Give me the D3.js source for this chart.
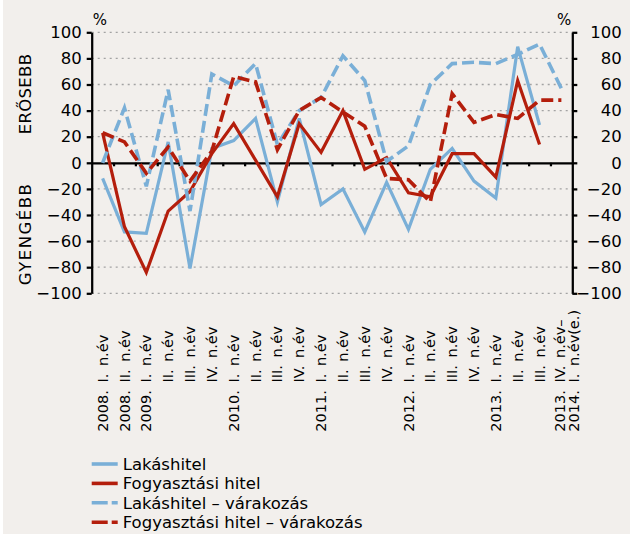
<!DOCTYPE html>
<html>
<head>
<meta charset="utf-8">
<script src="https://cdnjs.cloudflare.com/ajax/libs/d3/7.8.5/d3.min.js"></script>
<style>
  body { margin: 0; background: #fff; }
  svg { display: block; font-family: "DejaVu Sans", sans-serif; }
  .axis path, .axis line { stroke: #000; stroke-width: 2.25; }
  .axis text { font-family: "DejaVu Sans", sans-serif; font-size: 16.5px; fill: #000; }
  .xlabel { font-size: 14.5px; word-spacing: 3px; }
  .legend text { font-size: 16.5px; }
</style>
</head>
<body>
<svg id="chart"></svg>
<script>
var svgWidth = 633;
var svgHeight = 534;

var plotLeft = 91.7;
var plotRight = 572.3;
var plotTop = 32.3;
var plotBottom = 293.3;

// categories (quarters of the survey)
var categoryLabels = [
  "2008. I. n.év", "2008. II. n.év",
  "2009. I. n.év", "II. n.év", "III. n.év", "IV. n.év",
  "2010. I. n.év", "II. n.év", "III. n.év", "IV. n.év",
  "2011. I. n.év", "II. n.év", "III. n.év", "IV. n.év",
  "2012. I. n.év", "II. n.év", "III. n.év", "IV. n.év",
  "2013. I. n.év", "II. n.év", "III. n.év",
  "2013. IV. n.év–\n2014. I. n.év(e.)"
];

var yTicks = [-100, -80, -60, -40, -20, 0, 20, 40, 60, 80, 100];

// Lakáshitel
var housingLoan = [-12, -53, -54, 16, -81, 11, 17, 34, -30, 34, -32, -20, -53, -15, -51, -5, 11, -14, -27, 89, 29, null];
// Fogyasztási hitel
var consumerLoan = [23, -49, -84, -37, -22, 7, 30, 2, -26, 30, 8, 40, -5, 4, -23, -26, 7, 7, -11, 63, 14, null];
// Lakáshitel – várakozás
var housingExpect = [0, 42, -18, 56, -37, 68, 59, 76, 14, 40, 50, 82, 63, 1, 13, 60, 76, 77, 76, 83, 91, 57];
// Fogyasztási hitel – várakozás
var consumerExpect = [23, 16, -8, 12, -14, 9, 66, 62, 10, 40, 50, 39, 28, -12, -13, -30, 53, 31, 37, 34, 48, 48];

var seriesNames = ["Lakáshitel", "Fogyasztási hitel", "Lakáshitel – várakozás", "Fogyasztási hitel – várakozás"];

var blue = "#7aafd7";
var red = "#b41e0c";

var series = [
  { name: seriesNames[0], values: housingLoan, color: blue, dash: null },
  { name: seriesNames[1], values: consumerLoan, color: red, dash: null },
  { name: seriesNames[2], values: housingExpect, color: blue, dash: "12,5" },
  { name: seriesNames[3], values: consumerExpect, color: red, dash: "12,5" }
];

var svg = d3.select('#chart').attr('width', svgWidth).attr('height', svgHeight);

svg.append('rect')
   .attr('x', 3).attr('y', 0)
   .attr('width', svgWidth - 6).attr('height', svgHeight)
   .attr('fill', '#f2efec');

var xScale = d3.scaleBand()
  .domain(d3.range(categoryLabels.length))
  .range([plotLeft, plotRight]);

var xEdge = d3.scaleLinear()
  .domain([0, categoryLabels.length])
  .range([plotLeft, plotRight]);

var yScale = d3.scaleLinear()
  .domain([-100, 100])
  .range([plotBottom, plotTop]);

// dotted grid
svg.append('g').selectAll('line')
   .data(yTicks.filter(d => d != 0))
   .enter().append('line')
   .attr('x1', plotLeft).attr('x2', plotRight)
   .attr('y1', d => yScale(d)).attr('y2', d => yScale(d))
   .attr('stroke', '#a3a3a3')
   .attr('stroke-width', 1.3)
   .attr('stroke-dasharray', '2,4');

// zero line with category ticks
svg.append('g')
   .attr('class', 'axis')
   .attr('transform', 'translate(0,' + yScale(0) + ')')
   .call(d3.axisBottom(xEdge)
     .tickValues(d3.range(1, categoryLabels.length))
     .tickSize(3.5)
     .tickSizeOuter(0)
     .tickFormat(''));

svg.append('g')
   .attr('class', 'axis')
   .attr('transform', 'translate(' + plotLeft + ',0)')
   .call(d3.axisLeft(yScale).tickValues(yTicks).tickSize(5).tickSizeOuter(0).tickPadding(5));

var rightAxis = svg.append('g')
   .attr('class', 'axis')
   .attr('transform', 'translate(' + plotRight + ',0)')
   .call(d3.axisRight(yScale).tickValues(yTicks).tickSize(5).tickSizeOuter(0));
rightAxis.selectAll('text').attr('text-anchor', 'end').attr('x', 49.4);

svg.append('text').text('%').attr('x', plotLeft + 1).attr('y', 25).style('font-size', '15px');
svg.append('text').text('%').attr('x', plotRight - 1).attr('y', 25)
   .attr('text-anchor', 'end').style('font-size', '15px');

svg.append('text').text('ERŐSEBB')
   .attr('text-anchor', 'middle')
   .attr('transform', 'translate(25,94)rotate(-90)')
   .attr('dy', '0.35em')
   .style('font-size', '16.5px').style('letter-spacing', '0.3px');
svg.append('text').text('GYENGÉBB')
   .attr('text-anchor', 'middle')
   .attr('transform', 'translate(25,234)rotate(-90)')
   .attr('dy', '0.35em')
   .style('font-size', '16.5px').style('letter-spacing', '1.5px');

// category labels, rotated, bottoms aligned as if every label had its year
var labelBase = 431.7;
var measure = svg.append('text').attr('class', 'xlabel');
var fullLen = measure.text('2009. I. n.év').node().getComputedTextLength();
var restLen = measure.text('I. n.év').node().getComputedTextLength();
var yearWidth = fullLen - restLen;
measure.remove();

var labels = svg.append('g');
categoryLabels.forEach(function(label, i) {
  var lines = label.split('\n');
  var cx = xScale(i) + xScale.bandwidth() / 2;
  lines.forEach(function(line, j) {
    var hasYear = /^\d/.test(line);
    var lx = cx + (j - (lines.length - 1) / 2) * 14 + (lines.length > 1 ? 6 : 0);
    var ly = hasYear ? labelBase : labelBase - yearWidth;
    labels.append('text')
      .attr('class', 'xlabel')
      .attr('transform', 'translate(' + lx + ',' + ly + ')rotate(-90)')
      .attr('dy', '0.35em')
      .text(line);
  });
});

var line = d3.line()
  .defined(d => d != null)
  .x((d, i) => xScale(i) + xScale.bandwidth() / 2)
  .y(d => yScale(d));

svg.append('g').selectAll('path')
   .data(series)
   .enter().append('path')
   .attr('d', d => line(d.values))
   .attr('fill', 'none')
   .attr('stroke', d => d.color)
   .attr('stroke-width', d => d.dash ? 3.6 : 3.2)
   .attr('stroke-dasharray', d => d.dash)
   .attr('stroke-linejoin', 'miter');

// legend
var legend = svg.append('g').attr('class', 'legend');
series.forEach(function(s, i) {
  var ly = 464 + i * 19.4;
  legend.append('line')
    .attr('x1', 91.7).attr('x2', 117.7)
    .attr('y1', ly).attr('y2', ly)
    .attr('stroke', s.color)
    .attr('stroke-width', 3.6)
    .attr('stroke-dasharray', s.dash ? '16,4' : null);
  legend.append('text')
    .attr('x', 122.7).attr('y', ly)
    .attr('dy', '0.35em')
    .text(s.name);
});
</script>
</body>
</html>
